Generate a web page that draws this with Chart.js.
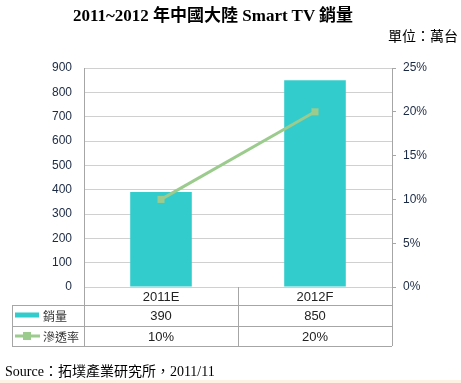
<!DOCTYPE html>
<html>
<head>
<meta charset="utf-8">
<script src="https://cdn.jsdelivr.net/npm/chart.js@4"></script>
<style>
  body { margin: 0; background: #fff; }
  #wrap { position: relative; width: 461px; height: 383px; overflow: hidden; }
  #chartBox { position: absolute; left: 0; top: 0; width: 461px; height: 383px; }
  #title { position: absolute; top: 1px; left: 0; width: 426px; text-align: center;
    font: bold 17px "Liberation Serif", "Noto Sans CJK TC"; color: #000; white-space: nowrap; }
  #unit { position: absolute; top: 25px; right: 3px; font: 14px "Noto Sans CJK TC"; color: #000; }
  #source { position: absolute; top: 360px; left: 5px; font: 14px "Liberation Serif", "Noto Sans CJK TC"; color: #000; white-space: nowrap; }
  #strip { position: absolute; left: 0; bottom: 0; width: 461px; height: 3px; background: #fdf1e4; }
</style>
</head>
<body>
<div id="wrap">
  <div id="chartBox"><canvas id="chart"></canvas></div>
  <div id="title">2011~2012 年中國大陸 Smart TV 銷量</div>
  <div id="unit">單位：萬台</div>
  <div id="source">Source：拓墣產業研究所，2011/11</div>
  <div id="strip"></div>
</div>
<script>
const categories = ["2011E", "2012F"];
const sales = [390, 850];          // 萬台
const penetration = [0.10, 0.20];  // 滲透率
const salesLabels = ["390", "850"];
const penLabels = ["10%", "20%"];
const seriesNames = ["銷量", "滲透率"];

const barColor = "#33cccc";
const lineColor = "#9bcb8d";
const borderGray = "#a6a6a6";

// draws the data table under the plot
const tablePlugin = {
  id: "dataTable",
  afterDraw(chart) {
    const ctx = chart.ctx;
    const area = chart.chartArea;
    const x = chart.scales.x;
    const left = 12;
    const r0 = area.bottom, r1 = r0 + 18, r2 = r1 + 21, r3 = r2 + 20;
    const step = (area.right - area.left) / categories.length;
    ctx.save();
    ctx.strokeStyle = borderGray;
    ctx.lineWidth = 1;
    ctx.beginPath();
    ctx.moveTo(left, r1 + 0.5); ctx.lineTo(area.right, r1 + 0.5);
    ctx.moveTo(left, r2 + 0.5); ctx.lineTo(area.right, r2 + 0.5);
    ctx.moveTo(left, r3 + 0.5); ctx.lineTo(area.right, r3 + 0.5);
    ctx.moveTo(left + 0.5, r1); ctx.lineTo(left + 0.5, r3);
    for (let i = 0; i <= categories.length; i++) {
      const vx = Math.round(area.left + step * i) + 0.5;
      ctx.moveTo(vx, r0); ctx.lineTo(vx, r3);
    }
    ctx.stroke();

    ctx.fillStyle = "#222";
    ctx.font = "13px 'Liberation Sans'";
    ctx.textAlign = "center";
    ctx.textBaseline = "middle";
    categories.forEach((c, i) => {
      const cx = x.getPixelForValue(i);
      ctx.fillText(c, cx, (r0 + r1) / 2 + 1);
      ctx.fillText(salesLabels[i], cx, (r1 + r2) / 2 + 1);
      ctx.fillText(penLabels[i], cx, (r2 + r3) / 2 + 1);
    });

    // legend keys
    ctx.fillStyle = barColor;
    ctx.fillRect(15, (r1 + r2) / 2 - 3, 24, 5);
    ctx.strokeStyle = lineColor;
    ctx.lineWidth = 3;
    ctx.beginPath();
    ctx.moveTo(15, (r2 + r3) / 2); ctx.lineTo(40, (r2 + r3) / 2);
    ctx.stroke();
    ctx.fillStyle = lineColor;
    ctx.fillRect(23, (r2 + r3) / 2 - 4, 8, 8);

    ctx.fillStyle = "#333";
    ctx.textAlign = "left";
    ctx.font = "12px 'Noto Sans CJK TC'";
    ctx.fillText(seriesNames[0], 43, (r1 + r2) / 2 + 1);
    ctx.fillText(seriesNames[1], 43, (r2 + r3) / 2 + 1);
    ctx.restore();
  }
};

new Chart(document.getElementById("chart"), {
  type: "bar",
  data: {
    labels: categories,
    datasets: [
      {
        type: "line",
        label: seriesNames[1],
        data: penetration,
        yAxisID: "y1",
        borderColor: lineColor,
        backgroundColor: lineColor,
        borderWidth: 3,
        pointStyle: "rect",
        pointRadius: 5,
        pointBorderWidth: 0,
        order: 0
      },
      {
        label: seriesNames[0],
        data: sales,
        yAxisID: "y",
        backgroundColor: barColor,
        barPercentage: 0.4,
        categoryPercentage: 1,
        order: 1
      }
    ]
  },
  options: {
    responsive: true,
    maintainAspectRatio: false,
    animation: false,
    layout: { padding: { left: 0, right: 0, top: 68, bottom: 96 } },
    plugins: { legend: { display: false }, tooltip: { enabled: false } },
    scales: {
      x: { display: false },
      y: {
        position: "left",
        min: 0, max: 900,
        ticks: { stepSize: 100, padding: 12, color: "#1b2a44", font: { family: "Liberation Sans", size: 12 } },
        grid: { color: "#d0d0d0", drawTicks: false },
        border: { color: borderGray },
        afterFit(s) { s.width = 84; }
      },
      y1: {
        position: "right",
        min: 0, max: 0.25,
        ticks: {
          stepSize: 0.05, padding: 7, color: "#1b2a44",
          font: { family: "Liberation Sans", size: 12 },
          callback: v => Math.round(v * 100) + "%"
        },
        grid: { drawOnChartArea: false, tickLength: 4, color: borderGray },
        border: { color: borderGray },
        afterFit(s) { s.width = 69; }
      }
    }
  },
  plugins: [tablePlugin]
});
</script>
</body>
</html>
